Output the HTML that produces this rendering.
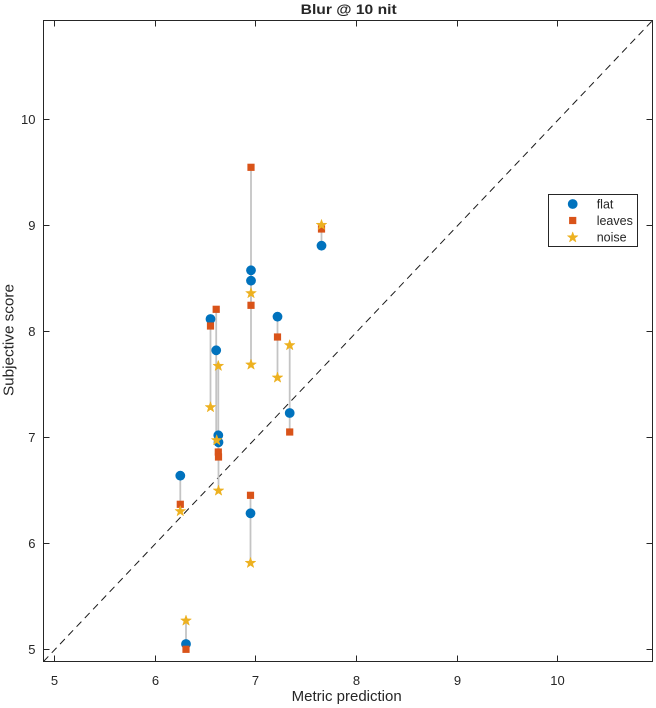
<!DOCTYPE html>
<html>
<head>
<meta charset="utf-8">
<style>
  html, body { margin: 0; padding: 0; background: #ffffff; }
  svg { display: block; }
  text { font-family: "Liberation Sans", Arial, sans-serif; fill: #262626; }
</style>
</head>
<body>
<svg width="656" height="708" viewBox="0 0 656 708" xmlns="http://www.w3.org/2000/svg">
  <defs>
    <g id="star">
      <polygon points="0,-5.6 1.35,-1.85 5.35,-1.75 2.15,0.7 3.3,4.5 0,2.25 -3.3,4.5 -2.15,0.7 -5.35,-1.75 -1.35,-1.85" fill="#EDB120" stroke="#EDB120" stroke-width="0.5" stroke-linejoin="round"/>
    </g>
    <g id="circ"><circle cx="0" cy="0" r="4.9" fill="#0072BD"/></g>
    <g id="sq"><rect x="-3.6" y="-3.6" width="7.2" height="7.2" fill="#D95319"/></g>
  </defs>

  <rect x="43.5" y="20.5" width="609" height="641" fill="#ffffff"/>

  <line x1="43.5" y1="661.5" x2="652.5" y2="20.5" stroke="#1a1a1a" stroke-width="1" stroke-dasharray="7,5"/>

  <g stroke="#c4c4c4" stroke-width="1.8">
    <line x1="186" y1="620.7" x2="186" y2="649.3"/>
    <line x1="180.3" y1="475.7" x2="180.3" y2="511.3"/>
    <line x1="210.5" y1="319" x2="210.5" y2="407.3"/>
    <line x1="216.2" y1="309.3" x2="216.2" y2="440.3"/>
    <line x1="218.3" y1="366" x2="218.3" y2="452"/>
    <line x1="218.5" y1="442.3" x2="218.5" y2="490.7"/>
    <line x1="251" y1="167.3" x2="251" y2="364.7"/>
    <line x1="251" y1="280.7" x2="251" y2="305.3"/>
    <line x1="250.5" y1="495.3" x2="250.5" y2="563"/>
    <line x1="277.5" y1="316.7" x2="277.5" y2="377.7"/>
    <line x1="289.7" y1="345.3" x2="289.7" y2="432"/>
    <line x1="321.5" y1="225" x2="321.5" y2="245.7"/>
  </g>

  <use href="#circ" x="186" y="644"/>
  <use href="#circ" x="180.3" y="475.7"/>
  <use href="#circ" x="210.5" y="319"/>
  <use href="#circ" x="216.2" y="350.3"/>
  <use href="#circ" x="218.3" y="435.3"/>
  <use href="#circ" x="218.5" y="442.3"/>
  <use href="#circ" x="251" y="270.3"/>
  <use href="#circ" x="251" y="280.7"/>
  <use href="#circ" x="250.5" y="513.3"/>
  <use href="#circ" x="277.5" y="316.7"/>
  <use href="#circ" x="289.7" y="413"/>
  <use href="#circ" x="321.5" y="245.7"/>

  <use href="#sq" x="186" y="649.3"/>
  <use href="#sq" x="180.3" y="504.3"/>
  <use href="#sq" x="210.5" y="326"/>
  <use href="#sq" x="216.2" y="309.3"/>
  <use href="#sq" x="218.3" y="452"/>
  <use href="#sq" x="218.5" y="457"/>
  <use href="#sq" x="251" y="167.3"/>
  <use href="#sq" x="251" y="305.3"/>
  <use href="#sq" x="250.5" y="495.3"/>
  <use href="#sq" x="277.5" y="337"/>
  <use href="#sq" x="289.7" y="432"/>
  <use href="#sq" x="321.5" y="229"/>

  <use href="#star" x="186" y="620.7"/>
  <use href="#star" x="180.3" y="511.3"/>
  <use href="#star" x="210.5" y="407.3"/>
  <use href="#star" x="216.7" y="440.3"/>
  <use href="#star" x="218.3" y="366"/>
  <use href="#star" x="218.5" y="490.7"/>
  <use href="#star" x="251" y="364.7"/>
  <use href="#star" x="251" y="293.3"/>
  <use href="#star" x="250.5" y="563"/>
  <use href="#star" x="277.5" y="377.7"/>
  <use href="#star" x="289.7" y="345.3"/>
  <use href="#star" x="321.5" y="225"/>

  <rect x="43.5" y="20.5" width="609" height="641" fill="none" stroke="#262626" stroke-width="1"/>

  <g stroke="#262626" stroke-width="1">
    <line x1="54.5" y1="661.5" x2="54.5" y2="655.5"/>
    <line x1="155.5" y1="661.5" x2="155.5" y2="655.5"/>
    <line x1="255.5" y1="661.5" x2="255.5" y2="655.5"/>
    <line x1="356.5" y1="661.5" x2="356.5" y2="655.5"/>
    <line x1="457.5" y1="661.5" x2="457.5" y2="655.5"/>
    <line x1="557.5" y1="661.5" x2="557.5" y2="655.5"/>
    <line x1="54.5" y1="20.5" x2="54.5" y2="26.5"/>
    <line x1="155.5" y1="20.5" x2="155.5" y2="26.5"/>
    <line x1="255.5" y1="20.5" x2="255.5" y2="26.5"/>
    <line x1="356.5" y1="20.5" x2="356.5" y2="26.5"/>
    <line x1="457.5" y1="20.5" x2="457.5" y2="26.5"/>
    <line x1="557.5" y1="20.5" x2="557.5" y2="26.5"/>
    <line x1="43.5" y1="649.5" x2="49.5" y2="649.5"/>
    <line x1="43.5" y1="543.5" x2="49.5" y2="543.5"/>
    <line x1="43.5" y1="437.5" x2="49.5" y2="437.5"/>
    <line x1="43.5" y1="331.5" x2="49.5" y2="331.5"/>
    <line x1="43.5" y1="225.5" x2="49.5" y2="225.5"/>
    <line x1="43.5" y1="119.5" x2="49.5" y2="119.5"/>
    <line x1="652.5" y1="649.5" x2="646.5" y2="649.5"/>
    <line x1="652.5" y1="543.5" x2="646.5" y2="543.5"/>
    <line x1="652.5" y1="437.5" x2="646.5" y2="437.5"/>
    <line x1="652.5" y1="331.5" x2="646.5" y2="331.5"/>
    <line x1="652.5" y1="225.5" x2="646.5" y2="225.5"/>
    <line x1="652.5" y1="119.5" x2="646.5" y2="119.5"/>
  </g>

  <g font-size="13" text-anchor="middle">
    <text x="54.5" y="685">5</text>
    <text x="155.5" y="685">6</text>
    <text x="255.5" y="685">7</text>
    <text x="356.5" y="685">8</text>
    <text x="457.5" y="685">9</text>
    <text x="557.5" y="685">10</text>
  </g>
  <g font-size="13" text-anchor="end">
    <text x="35.5" y="654">5</text>
    <text x="35.5" y="548">6</text>
    <text x="35.5" y="442">7</text>
    <text x="35.5" y="336">8</text>
    <text x="35.5" y="230">9</text>
    <text x="35.5" y="124">10</text>
  </g>

  <text x="346.7" y="701" font-size="14.5" text-anchor="middle" textLength="110" lengthAdjust="spacingAndGlyphs">Metric prediction</text>
  <text transform="translate(13.5,340) rotate(-90)" font-size="14.5" text-anchor="middle" textLength="112" lengthAdjust="spacingAndGlyphs">Subjective score</text>

  <text x="348.7" y="14" font-size="13.5" font-weight="bold" text-anchor="middle" fill="#000" textLength="96" lengthAdjust="spacingAndGlyphs">Blur @ 10 nit</text>

  <rect x="548.5" y="194.5" width="89" height="52" fill="#ffffff" stroke="#262626" stroke-width="1"/>
  <use href="#circ" x="572.7" y="204"/>
  <use href="#sq" x="572.7" y="220.5"/>
  <use href="#star" x="572.7" y="237.5"/>
  <g font-size="12.5">
    <text x="596.7" y="208.5">flat</text>
    <text x="596.7" y="225">leaves</text>
    <text x="596.7" y="241.5">noise</text>
  </g>
</svg>
</body>
</html>
